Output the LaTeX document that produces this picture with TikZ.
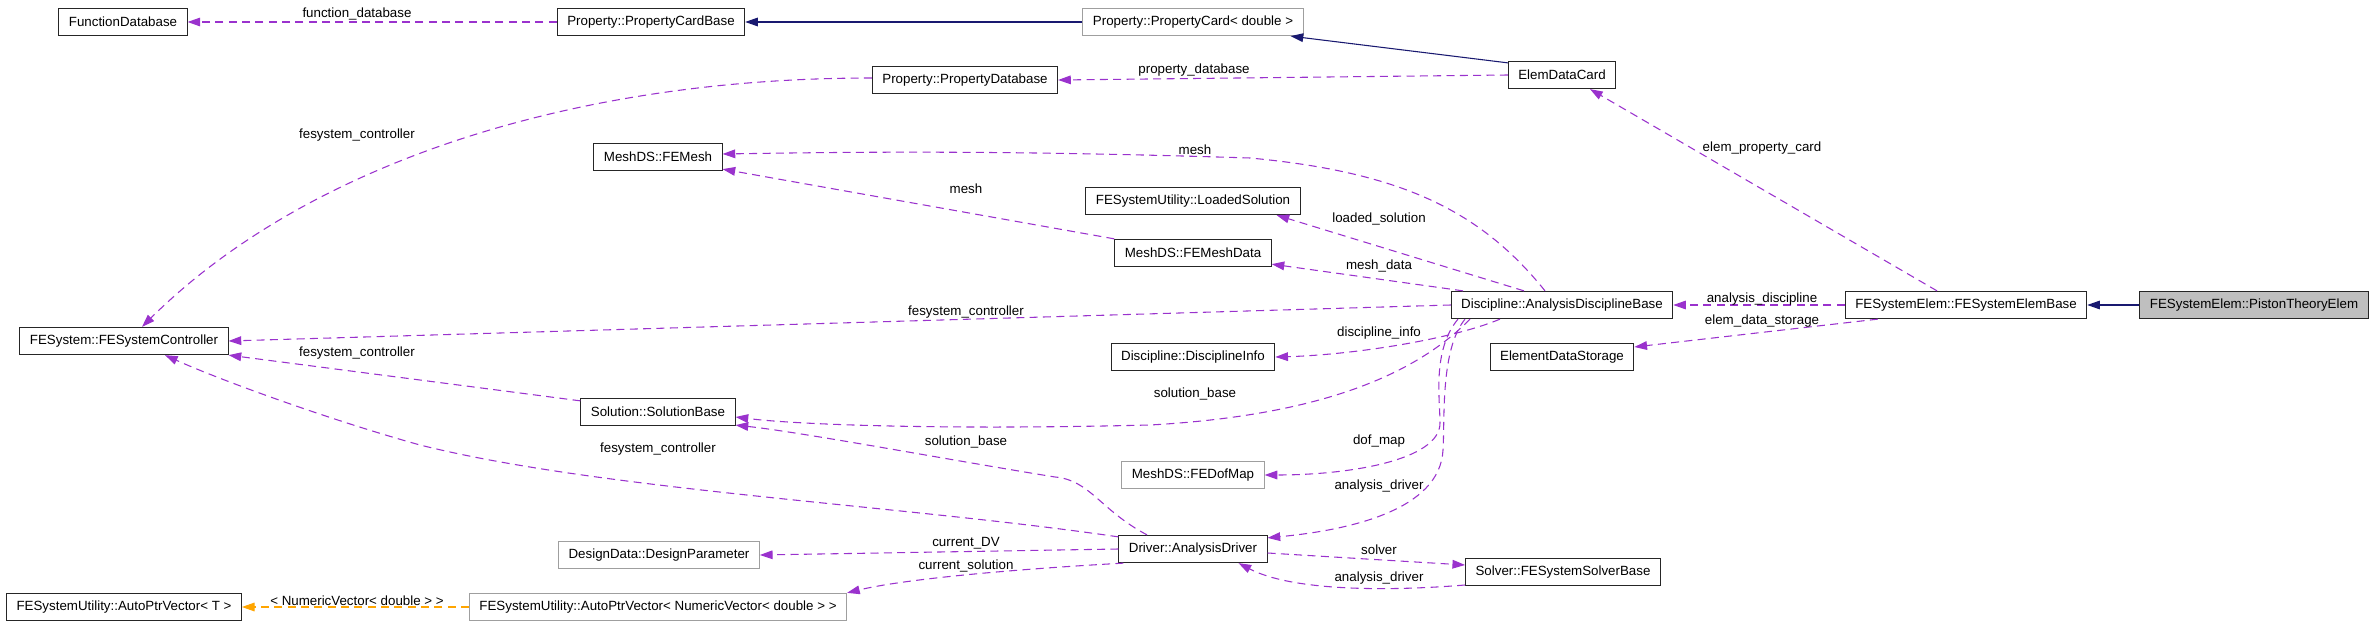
\documentclass[tikz,border=0pt]{standalone}
\usepackage{fontspec}
\setmainfont{Liberation Sans}
\usetikzlibrary{arrows.meta, calc}
\definecolor{orchid}{HTML}{9A32CD}
\definecolor{midnight}{HTML}{191970}
\definecolor{tplorange}{HTML}{FFA500}
\definecolor{grey75}{HTML}{BFBFBF}

\begin{document}
\begin{tikzpicture}[
  x=0.75pt, y=-0.75pt,
  >={Triangle[length=9.5pt, width=6.5pt]},
  every node/.style={font=\fontsize{10}{12}\selectfont},
  cls/.style   = {draw=black!85, fill=white, line width=0.7pt, inner xsep=7.5pt, inner ysep=0pt, minimum height=20.5pt},
  undoc/.style = {cls, draw=gray!75},
  focus/.style = {cls, fill=grey75},
  dep/.style   = {->, orchid, line width=0.8pt, dash pattern=on 6pt off 4pt},
  inh/.style   = {->, midnight, line width=0.8pt},
  tmpl/.style  = {->, tplorange, line width=0.8pt, dash pattern=on 6pt off 4pt},
  lbl/.style   = {inner sep=1pt},
]
  \useasboundingbox (0,0) rectangle (2373,627);
  % classes
  \node[cls]   (fdb)  at (123,22)   {FunctionDatabase};
  \node[cls]   (pcb)  at (651,22)   {Property::PropertyCardBase};
  \node[undoc] (pcd)  at (1193,22)  {Property::PropertyCard< double >};
  \node[cls]   (edc)  at (1562,75)  {ElemDataCard};
  \node[cls]   (pdb)  at (965,80)   {Property::PropertyDatabase};
  \node[cls]   (mesh) at (658,157)  {MeshDS::FEMesh};
  \node[cls]   (ctrl) at (124,341)  {FESystem::FESystemController};
  \node[cls]   (lsol) at (1193,201) {FESystemUtility::LoadedSolution};
  \node[cls]   (mdat) at (1193,253) {MeshDS::FEMeshData};
  \node[cls]   (adb)  at (1562,305) {Discipline::AnalysisDisciplineBase};
  \node[cls]   (dinf) at (1193,357) {Discipline::DisciplineInfo};
  \node[cls]   (eds)  at (1562,357) {ElementDataStorage};
  \node[cls]   (feb)  at (1966,305) {FESystemElem::FESystemElemBase};
  \node[focus] (pte)  at (2254,305) {FESystemElem::PistonTheoryElem};
  \node[cls]   (sol)  at (658,412)  {Solution::SolutionBase};
  \node[undoc] (dof)  at (1193,475) {MeshDS::FEDofMap};
  \node[undoc] (dvp)  at (659,555)  {DesignData::DesignParameter};
  \node[cls]   (drv)  at (1193,549) {Driver::AnalysisDriver};
  \node[cls]   (slv)  at (1563,572) {Solver::FESystemSolverBase};
  \node[cls]   (apt)  at (124,607)  {FESystemUtility::AutoPtrVector< T >};
  \node[undoc] (apn)  at (658,607)  {FESystemUtility::AutoPtrVector< NumericVector< double > >};

  % inheritance and template
  \foreach \a/\b in {pcd.west/pcb.east, pte.west/feb.east}\draw[inh](\a)--(\b);
  \draw[inh] ($(edc.north west)+(0,2)$) -- ($(pcd.south east)+(-13,0)$);
  \draw[tmpl] (apn.west) -- (apt.east);

  % straight usage edges
  \foreach \a/\b in {pcb.west/fdb.east, edc.west/pdb.east, feb.west/adb.east, adb.west/ctrl.east, drv.west/dvp.east}\draw[dep](\a)--(\b);
  \draw[dep] ($(feb.north)+(-29,0)$) -- ($(edc.south)+(28,0)$);
  \draw[dep] ($(feb.south west)+(33,0)$) -- ($(eds.east)+(0,-10)$);
  \draw[dep] (mdat.north west) -- ($(mesh.south east)+(0,-2)$);
  \draw[dep] ($(adb.north)+(-38,0)$) -- ($(lsol.south east)+(-24,0)$);
  \draw[dep] ($(adb.north)+(-99,0)$) -- ($(mdat.south east)+(0,-3)$);
  \draw[dep] ($(sol.north west)+(0,3)$) -- (ctrl.south east);
  \draw[dep] ($(drv.east)+(0,4)$) -- ($(slv.west)+(0,-7)$);

  % curved usage edges
  \draw[dep] ($(pdb.west)+(0,-2)$) .. controls (560,78) and (300,170) .. ($(ctrl.north)+(18,0)$);
  \draw[dep] ($(adb.north)+(-17,0)$) .. controls (1480,210) and (1400,172) .. (1250,158)
             .. controls (1000,150) and (850,152) .. ($(mesh.east)+(0,-3)$);
  \draw[dep] ($(adb.south)+(-62,0)$) .. controls (1450,340) and (1350,355) .. (dinf.east);
  \draw[dep] ($(adb.south)+(-92,0)$) .. controls (1420,370) and (1330,415) .. (1150,425)
             .. controls (950,430) and (800,425) .. ($(sol.east)+(0,5)$);
  \draw[dep] ($(adb.south)+(-104,0)$) .. controls (1432,350) and (1440,400) .. (1440,423)
             .. controls (1440,460) and (1350,475) .. (dof.east);
  \draw[dep] ($(adb.south)+(-97,0)$) .. controls (1440,350) and (1445,420) .. (1443,450)
             .. controls (1440,510) and (1350,530) .. ($(drv.north east)+(0,3)$);
  \draw[dep] ($(drv.north)+(-46,0)$) .. controls (1100,510) and (1090,480) .. (1055,477)
             .. controls (950,460) and (800,432) .. ($(sol.south east)+(0,-1)$);
  \draw[dep] ($(drv.north west)+(0,2)$) .. controls (900,505) and (600,490) .. (420,445)
             .. controls (330,420) and (220,380) .. ($(ctrl.south)+(41,0)$);
  \draw[dep] ($(drv.south west)+(5,0)$) .. controls (1000,570) and (900,580) .. (apn.north east);
  \draw[dep] ($(slv.west)+(0,13)$) .. controls (1380,592) and (1290,590) .. ($(drv.south east)+(-29,0)$);

  % edge labels
  \foreach \t/\x/\y [count=\i] in {function\_database/357/14, property\_database/1194/70,
      fesystem\_controller/357/135, elem\_property\_card/1762/148, analysis\_discipline/1762/299,
      elem\_data\_storage/1762/321, mesh/1195/150, mesh/966/189, loaded\_solution/1379/219,
      mesh\_data/1379/266, fesystem\_controller/966/312, discipline\_info/1379/333,
      fesystem\_controller/357/353, solution\_base/1195/394, solution\_base/966/442,
      dof\_map/1379/441, fesystem\_controller/658/449, analysis\_driver/1379/486,
      current\_DV/966/543, solver/1379/550, current\_solution/966/566,
      analysis\_driver/1379/578, < NumericVector< double > >/357/601}
    \node[lbl] (lab\i) at (\x,\y) {\t};
\end{tikzpicture}
\end{document}
